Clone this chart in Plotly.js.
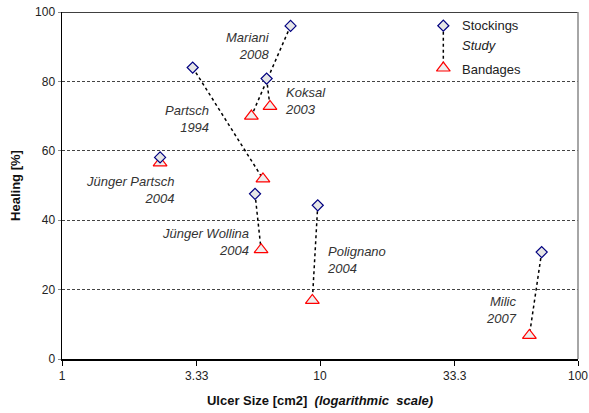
<!DOCTYPE html>
<html>
<head>
<meta charset="utf-8">
<script src="https://cdn.plot.ly/plotly-3.0.1.min.js"></script>
<style>html,body{margin:0;padding:0;background:#fff;}#chart{width:589px;height:413px;}</style>
</head>
<body>
<div id="chart"></div>
<script>
// Study data (ulcer size in cm2, healing in %)
var studies = ["Mariani<br>2008", "Koksal<br>2003", "Partsch<br>1994", "Jünger Partsch<br>2004", "Jünger Wollina<br>2004", "Polignano<br>2004", "Milic<br>2007"];
var stockingSize = [7.69, 6.21, 3.21, 2.40, 5.60, 9.80, 72.3];
var stockingHeal = [96.0, 80.8, 84.0, 58.1, 47.6, 44.3, 30.8];
var bandageSize = [5.42, 6.40, 6.01, 2.40, 5.91, 9.34, 64.8];
var bandageHeal = [70.0, 72.8, 51.9, 56.5, 31.5, 16.9, 6.8];
// label anchor positions (log10 of size, healing) and side
var labelX = [0.814, 0.857, 0.578, 0.442, 0.733, 1.019, 1.771];
var labelY = [90.3, 74.4, 69.1, 48.8, 33.7, 28.6, 14.1];
var labelAnchor = ["right", "left", "right", "right", "right", "left", "right"];
var xTicks = [1, 3.33, 10, 33.3, 100];
var xTickText = ["1", "3.33", "10", "33.3", "100"];
var yTicks = [0, 20, 40, 60, 80, 100];

var lx = [], ly = [];
for (var i = 0; i < studies.length; i++) {
  lx.push(stockingSize[i], bandageSize[i], null);
  ly.push(stockingHeal[i], bandageHeal[i], null);
}

var font = "Liberation Sans, Arial, sans-serif";
var diamond = {symbol: "diamond", size: 8.5, color: "#e6e6e6", line: {color: "#000080", width: 1.2}};
var triangle = {symbol: "triangle-up", size: 12, color: "#eeeeee", line: {color: "#ff0000", width: 1.2}};

var traces = [
  {x: lx, y: ly, mode: "lines", line: {color: "#000", width: 1.5, dash: "dot"}, hoverinfo: "skip", showlegend: false},
  {x: bandageSize, y: bandageHeal, mode: "markers", marker: triangle, name: "Bandages", showlegend: false},
  {x: stockingSize, y: stockingHeal, mode: "markers", marker: diamond, name: "Stockings", showlegend: false},
  // custom legend
  {x: [0.739, 0.739], y: [0.9605, 0.8386], xaxis: "x2", yaxis: "y2", mode: "lines", line: {color: "#000", width: 1.5, dash: "dot"}, showlegend: false, hoverinfo: "skip"},
  {x: [0.739], y: [0.8386], xaxis: "x2", yaxis: "y2", mode: "markers", marker: triangle, showlegend: false, hoverinfo: "skip"},
  {x: [0.739], y: [0.9605], xaxis: "x2", yaxis: "y2", mode: "markers", marker: diamond, showlegend: false, hoverinfo: "skip"}
];

var annotations = studies.map(function (s, i) {
  return {x: labelX[i], y: labelY[i], xref: "x", yref: "y", text: "<i>" + s + "</i>", showarrow: false,
    xanchor: labelAnchor[i], align: labelAnchor[i], font: {family: font, size: 13, color: "#333"}};
});
annotations.push(
  {x: 0.7706, y: 0.9605, xref: "paper", yref: "paper", text: "Stockings", showarrow: false, xanchor: "left", yanchor: "middle", font: {family: font, size: 13, color: "#222"}},
  {x: 0.7706, y: 0.903, xref: "paper", yref: "paper", text: "<i>Study</i>", showarrow: false, xanchor: "left", yanchor: "middle", font: {family: font, size: 13, color: "#222"}},
  {x: 0.7706, y: 0.834, xref: "paper", yref: "paper", text: "Bandages", showarrow: false, xanchor: "left", yanchor: "middle", font: {family: font, size: 13, color: "#222"}}
);

var layout = {
  width: 589, height: 413,
  margin: {l: 62, r: 11, t: 12, b: 54},
  paper_bgcolor: "#fff", plot_bgcolor: "#fff",
  showlegend: false,
  font: {family: font, size: 12, color: "#222"},
  xaxis: {
    type: "log", range: [0, 2], tickvals: xTicks, ticktext: xTickText,
    showgrid: false, zeroline: false, showline: true, linecolor: "#000", linewidth: 1.5,
    ticks: "outside", ticklen: 5, tickcolor: "#000", tickwidth: 1,
    tickfont: {family: font, size: 12, color: "#222"},
    title: {text: "<b>Ulcer Size [cm2]</b>  <b><i>(logarithmic  scale)</i></b>", standoff: 14, font: {family: font, size: 13, color: "#111"}}
  },
  yaxis: {
    range: [0, 100], tickvals: yTicks, showgrid: true, gridcolor: "#444", gridwidth: 1, griddash: "3px,2px",
    zeroline: false, showline: true, linecolor: "#000", linewidth: 1.5,
    ticks: "outside", ticklen: 3, tickcolor: "#888",
    tickfont: {family: font, size: 12, color: "#222"},
    title: {text: "<b>Healing [%]</b>", standoff: 11, font: {family: font, size: 13, color: "#111"}}
  },
  xaxis2: {overlaying: "x", range: [0, 1], visible: false, fixedrange: true},
  yaxis2: {overlaying: "y", range: [0, 1], visible: false, fixedrange: true},
  shapes: [
    {type: "line", xref: "paper", yref: "y", x0: 0, x1: 1, y0: 100, y1: 100, line: {color: "#000", width: 1.5}},
    {type: "line", xref: "paper", yref: "paper", x0: 1, x1: 1, y0: 0, y1: 1, line: {color: "#888", width: 1.5}}
  ],
  annotations: annotations
};

Plotly.newPlot("chart", traces, layout, {staticPlot: true, displayModeBar: false});
</script>
</body>
</html>
